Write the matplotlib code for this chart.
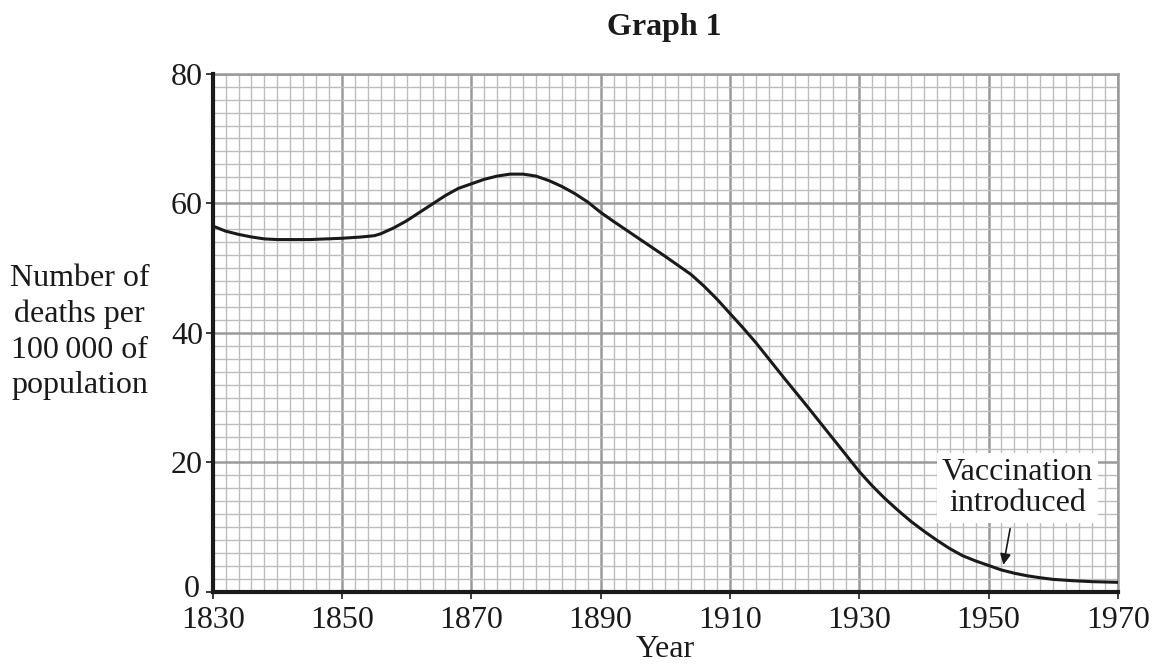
import matplotlib
matplotlib.use("Agg")
import matplotlib.pyplot as plt
import matplotlib.transforms as mtransforms
from matplotlib.ticker import MultipleLocator

# values
years = [1830, 1832, 1834, 1836, 1838, 1840, 1845, 1850, 1853, 1855,
         1856, 1858, 1860, 1862, 1864, 1866, 1868, 1870, 1872, 1874,
         1876, 1878, 1880, 1882, 1884, 1886, 1888, 1890, 1892, 1896,
         1900, 1904, 1906, 1908, 1910, 1912, 1914, 1918, 1922, 1926,
         1930, 1932, 1934, 1936, 1938, 1940, 1942, 1944, 1946, 1948,
         1950, 1952, 1954, 1956, 1958, 1960, 1963, 1966, 1970]
deaths = [56.5, 55.7, 55.2, 54.8, 54.5, 54.4, 54.4, 54.6, 54.8, 55.0,
          55.3, 56.2, 57.3, 58.6, 59.9, 61.2, 62.3, 63.0, 63.7, 64.2,
          64.5, 64.5, 64.2, 63.5, 62.6, 61.5, 60.2, 58.6, 57.2, 54.5,
          51.8, 49.0, 47.2, 45.2, 43.0, 40.8, 38.5, 33.5, 28.6, 23.6,
          18.6, 16.4, 14.4, 12.6, 10.9, 9.4, 8.0, 6.7, 5.6, 4.8,
          4.1, 3.4, 2.9, 2.5, 2.2, 1.95, 1.75, 1.6, 1.5]

x_ticks = [1830, 1850, 1870, 1890, 1910, 1930, 1950, 1970]
y_ticks = [0, 20, 40, 60, 80]

note_text = "Vaccination\nintroduced"
note_xy = (1952.3, 4.2)
note_text_xy = (1954.5, 16.0)

plt.rcParams['font.family'] = ['Liberation Serif', 'DejaVu Serif']

fig = plt.figure(figsize=(11.56, 6.64), dpi=100)
ax = fig.add_axes([0.184, 0.1084, 0.783, 0.7806])

ax.set_xlim(1830, 1970)
ax.set_ylim(0, 80)
ax.set_xticks(x_ticks)
ax.set_yticks(y_ticks)
ax.xaxis.set_minor_locator(MultipleLocator(2))
ax.yaxis.set_minor_locator(MultipleLocator(2))

# graph paper
ax.grid(which='minor', color='#bdbdbd', linewidth=1.0)
ax.grid(which='major', color='#9a9a9a', linewidth=1.8)
ax.set_axisbelow(True)

ax.plot(years, deaths, color='#1a1a1a', linewidth=2.2,
        solid_joinstyle='round', solid_capstyle='round', zorder=3)

for side in ['top', 'right']:
    ax.spines[side].set_color('#9a9a9a')
    ax.spines[side].set_linewidth(1.8)
for side in ['left', 'bottom']:
    ax.spines[side].set_color('#1a1a1a')
    ax.spines[side].set_linewidth(3.0)
    ax.spines[side].set_zorder(4)

ax.tick_params(which='major', direction='out', length=5, width=1.2,
               labelsize=23, colors='#1a1a1a')
ax.tick_params(axis='x', which='major', pad=5)
ax.tick_params(axis='y', which='major', pad=2)
ax.tick_params(which='minor', length=0)

# the "0" sits a touch above the axis line in the original, clear of "1830"
zero_label = ax.get_yticklabels()[0]
zero_label.set_transform(zero_label.get_transform() +
                         mtransforms.ScaledTranslation(-2 / 72, 4 / 72, fig.dpi_scale_trans))

ax.annotate(note_text, xy=note_xy, xytext=note_text_xy,
            ha='center', va='center', fontsize=23, color='#1a1a1a',
            linespacing=1.1,
            bbox=dict(boxstyle='square,pad=0.15', fc='white', ec='none'),
            arrowprops=dict(arrowstyle='-|>', color='#1a1a1a', lw=1.2,
                            mutation_scale=16, shrinkA=4, shrinkB=0),
            zorder=5)

ax.set_xlabel("Year", fontsize=23, color='#1a1a1a', labelpad=0)
fig.text(0.069, 0.50, "Number of\ndeaths per\n100\u2009000 of\npopulation",
         ha='center', va='center', fontsize=23, color='#1a1a1a', linespacing=1.3)
fig.text(0.575, 0.958, "Graph 1", ha='center', va='center',
         fontsize=23, fontweight='bold', color='#1a1a1a')

fig.savefig('out.png', dpi=100)
